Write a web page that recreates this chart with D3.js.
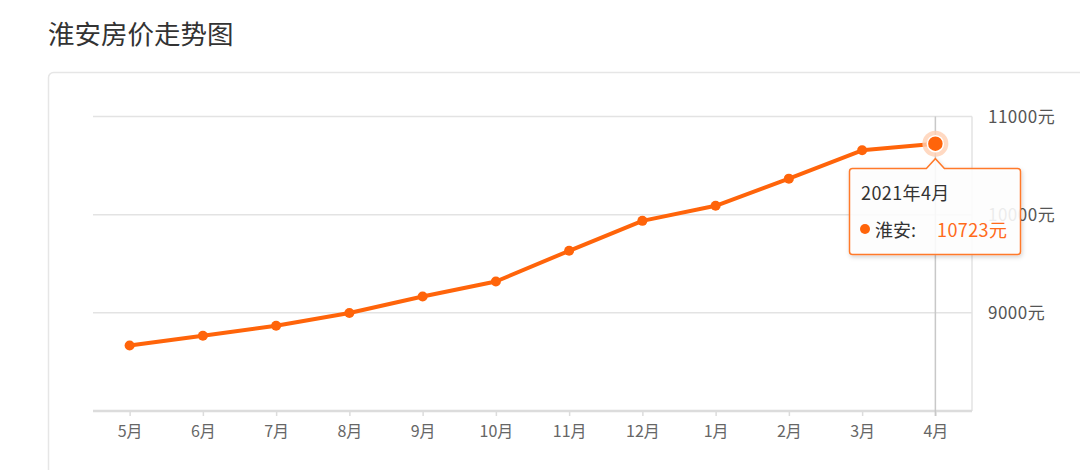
<!DOCTYPE html>
<html>
<head>
<meta charset="utf-8">
<script src="https://cdn.jsdelivr.net/npm/d3@7/dist/d3.min.js"></script>
<style>
  html, body { margin: 0; padding: 0; background: #fff; }
  svg { display: block; font-family: "Noto Sans CJK SC", "Noto Sans", sans-serif; }
</style>
</head>
<body>
<svg id="chart" width="1080" height="470"></svg>
<script>
const title = "淮安房价走势图";
const months = ["5月","6月","7月","8月","9月","10月","11月","12月","1月","2月","3月","4月"];
const prices = [8668, 8767, 8869, 8998, 9167, 9319, 9632, 9937, 10090, 10367, 10656, 10723];
const yTicks = [9000, 10000, 11000];
const yDomain = [8000, 11000];
const seriesName = "淮安";
const tooltipTitle = "2021年4月";
const activeIndex = 11;

const svg = d3.select("#chart");
const plotL = 93, plotR = 972, plotT = 116.5, plotB = 411;
const orange = "#ff640a";

// title
svg.append("text").attr("x", 48).attr("y", 32).attr("dominant-baseline", "central")
  .attr("font-size", 26.5).attr("fill", "#333").text(title);

// panel
svg.append("rect").attr("x", 48.5).attr("y", 72.5).attr("width", 1100).attr("height", 500)
  .attr("rx", 5).attr("fill", "#fff").attr("stroke", "#e6e6e6").attr("stroke-width", 1.5);

const x = d3.scalePoint().domain(months).range([plotL, plotR]).padding(0.5);
const y = d3.scaleLinear().domain(yDomain).range([plotB, plotT]);

// grid lines
svg.append("g").selectAll("line").data(yTicks).join("line")
  .attr("x1", plotL).attr("x2", plotR)
  .attr("y1", d => y(d)).attr("y2", d => y(d))
  .attr("stroke", "#e3e3e3").attr("stroke-width", 1.5);

// right frame line
svg.append("line").attr("x1", plotR).attr("x2", plotR).attr("y1", plotT).attr("y2", plotB)
  .attr("stroke", "#e3e3e3").attr("stroke-width", 1.5);

// y axis labels (right)
const yAxis = d3.axisRight(y).tickValues(yTicks).tickSize(0).tickPadding(16).tickFormat(d => d + "元");
const gy = svg.append("g").attr("transform", `translate(${plotR},0)`).call(yAxis);
gy.select(".domain").remove();
gy.selectAll("text").attr("font-size", 17).attr("fill", "#555").attr("letter-spacing", 0.5)
  .attr("font-family", "\"Noto Sans CJK SC\", sans-serif").attr("dy", "0.35em");

// x axis
const xAxis = d3.axisBottom(x).tickSize(5).tickPadding(10);
const gx = svg.append("g").attr("transform", `translate(0,${plotB})`).call(xAxis);
gx.select(".domain").attr("d", `M${plotL},0H${plotR}`).attr("stroke", "#dcdcdc").attr("stroke-width", 2.5);
gx.selectAll(".tick line").attr("stroke", "#dcdcdc").attr("stroke-width", 1.5);
gx.selectAll("text").attr("font-size", 16).attr("fill", "#666")
  .attr("font-family", "\"Noto Sans CJK SC\", sans-serif");

// axis pointer
const ax = x(months[activeIndex]);
svg.append("line").attr("x1", ax).attr("x2", ax).attr("y1", plotT).attr("y2", plotB + 5)
  .attr("stroke", "#c8c8c8").attr("stroke-width", 1.5);

// line
const line = d3.line().x((d, i) => x(months[i])).y(d => y(d));
svg.append("path").datum(prices).attr("d", line)
  .attr("fill", "none").attr("stroke", orange).attr("stroke-width", 4)
  .attr("stroke-linejoin", "round");

// points
svg.append("g").selectAll("circle").data(prices).join("circle")
  .filter((d, i) => i !== activeIndex)
  .attr("cx", (d, i) => x(months[i])).attr("cy", d => y(d))
  .attr("r", 5).attr("fill", orange);

// active point
const av = prices[activeIndex];
svg.append("circle").attr("cx", ax).attr("cy", y(av)).attr("r", 13)
  .attr("fill", "#ffcfb3").attr("opacity", 0.8);
svg.append("circle").attr("cx", ax).attr("cy", y(av)).attr("r", 8)
  .attr("fill", orange).attr("stroke", "#fff").attr("stroke-width", 1.5);

// tooltip
const tx0 = 849.5, tx1 = 1020.5, ty0 = 168.5, ty1 = 254.5, tipY = y(av) + 15, aw = 9, rr = 3;
const defs = svg.append("defs");
const f = defs.append("filter").attr("id", "shadow").attr("x", "-20%").attr("y", "-20%").attr("width", "140%").attr("height", "140%");
f.append("feDropShadow").attr("dx", 1).attr("dy", 2).attr("stdDeviation", 2).attr("flood-color", "#000").attr("flood-opacity", 0.18);
const tp = `M${tx0 + rr},${ty0} H${ax - aw} L${ax},${tipY} L${ax + aw},${ty0} H${tx1 - rr} Q${tx1},${ty0} ${tx1},${ty0 + rr} V${ty1 - rr} Q${tx1},${ty1} ${tx1 - rr},${ty1} H${tx0 + rr} Q${tx0},${ty1} ${tx0},${ty1 - rr} V${ty0 + rr} Q${tx0},${ty0} ${tx0 + rr},${ty0} Z`;
svg.append("path").attr("d", tp).attr("fill", "rgba(255,255,255,0.88)")
  .attr("stroke", "#ff7a2c").attr("stroke-width", 1.5).attr("filter", "url(#shadow)");
svg.append("text").attr("x", 861).attr("y", 192).attr("dominant-baseline", "central")
  .attr("font-size", 18).attr("letter-spacing", 0.4).attr("fill", "#333").text(tooltipTitle);
svg.append("circle").attr("cx", 865).attr("cy", 229).attr("r", 5).attr("fill", orange);
svg.append("text").attr("x", 875).attr("y", 229).attr("dominant-baseline", "central")
  .attr("font-size", 18).attr("fill", "#333").text(seriesName + ":");
svg.append("text").attr("x", 937).attr("y", 229).attr("dominant-baseline", "central")
  .attr("font-size", 18).attr("letter-spacing", 0.4).attr("fill", "#ff6a1a").text(av + "元");
</script>
</body>
</html>
